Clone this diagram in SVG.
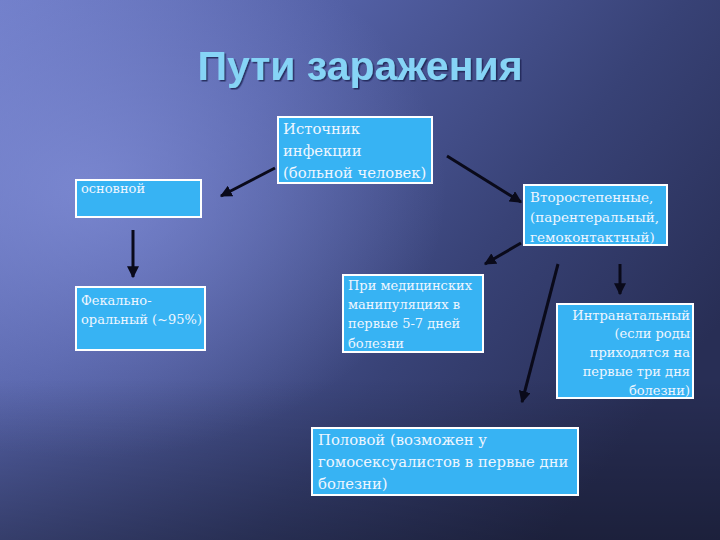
<svg xmlns="http://www.w3.org/2000/svg" width="720" height="540" viewBox="0 0 720 540">
<defs>
<linearGradient id="bg" x1="0" y1="0" x2="1" y2="0.6">
<stop offset="0" stop-color="#6f7dc8"/>
<stop offset="0.35" stop-color="#5360a5"/>
<stop offset="0.7" stop-color="#384276"/>
<stop offset="1" stop-color="#282e55"/>
</linearGradient>
<radialGradient id="hl" cx="0.12" cy="0.35" r="0.5">
<stop offset="0" stop-color="#8592dc" stop-opacity="0.7"/>
<stop offset="1" stop-color="#8592dc" stop-opacity="0"/>
</radialGradient>
<linearGradient id="vign" x1="0" y1="0" x2="0" y2="1">
<stop offset="0" stop-color="#000" stop-opacity="0"/>
<stop offset="0.7" stop-color="#000" stop-opacity="0"/>
<stop offset="1" stop-color="#000" stop-opacity="0.3"/>
</linearGradient>
<marker id="ah" viewBox="0 0 10 10" refX="9" refY="5" markerWidth="4" markerHeight="4" orient="auto" markerUnits="strokeWidth">
<path d="M0,0 L10,5 L0,10 z" fill="#0a0a1a"/>
</marker>
<filter id="sh" x="-5%" y="-20%" width="110%" height="140%">
<feDropShadow dx="1.5" dy="1.5" stdDeviation="0.5" flood-color="#1a2050" flood-opacity="0.8"/>
</filter>
</defs>
<style>
.box{fill:#37b3f3;stroke:#ffffff;stroke-width:2}
.t{font-family:"DejaVu Serif","Liberation Serif",serif;fill:#eef6ff;font-size:13px}
.t.big{font-size:14.8px}
.t.mid{font-size:13.5px}
.conn line{stroke:#0a0a1a;stroke-width:3;marker-end:url(#ah)}
</style>
<rect width="720" height="540" fill="url(#bg)"/>
<rect width="720" height="540" fill="url(#hl)"/>
<rect width="720" height="540" fill="url(#vign)"/>
<text x="360" y="80" text-anchor="middle" font-family="'Liberation Sans',Arial,sans-serif" font-weight="bold" font-size="41" fill="#86d4f6" filter="url(#sh)">Пути заражения</text>

<g id="source">
<rect class="box" x="278" y="117" width="154" height="66"/>
<text class="t big" x="283" y="134">Источник</text>
<text class="t big" x="283" y="156">инфекции</text>
<text class="t big" x="283" y="178">(больной человек)</text>
</g>
<g id="main">
<rect class="box" x="76" y="180" width="125" height="37"/>
<text class="t" x="81" y="193">основной</text>
</g>
<g id="fecal">
<rect class="box" x="76" y="287" width="129" height="63"/>
<text class="t" x="81" y="305">Фекально-</text>
<text class="t" x="81" y="324">оральный (~95%)</text>
</g>
<g id="secondary">
<rect class="box" x="524" y="185" width="143" height="60"/>
<text class="t mid" x="530" y="202">Второстепенные,</text>
<text class="t mid" x="530" y="222">(парентеральный,</text>
<text class="t mid" x="530" y="242">гемоконтактный)</text>
</g>
<g id="medical">
<rect class="box" x="343" y="275" width="140" height="77"/>
<text class="t" x="348" y="290">При медицинских</text>
<text class="t" x="348" y="309">манипуляциях в</text>
<text class="t" x="348" y="328">первые 5-7 дней</text>
<text class="t" x="348" y="348">болезни</text>
</g>
<g id="intranatal">
<rect class="box" x="557" y="304" width="136" height="94"/>
<text class="t" x="690" y="320" text-anchor="end">Интранатальный</text>
<text class="t" x="690" y="338" text-anchor="end">(если роды</text>
<text class="t" x="690" y="357" text-anchor="end">приходятся на</text>
<text class="t" x="690" y="376" text-anchor="end">первые три дня</text>
<text class="t" x="690" y="395" text-anchor="end">болезни)</text>
</g>
<g id="sexual">
<rect class="box" x="312" y="428" width="266" height="67"/>
<text class="t big" x="318" y="445">Половой (возможен у</text>
<text class="t big" x="318" y="467">гомосексуалистов в первые дни</text>
<text class="t big" x="318" y="489">болезни)</text>
</g>
<g id="connectors" class="conn">
<line x1="275" y1="168" x2="221" y2="196"/>
<line x1="447" y1="156" x2="521" y2="202"/>
<line x1="133" y1="230" x2="133" y2="277"/>
<line x1="521" y1="243" x2="485" y2="264"/>
<line x1="558" y1="264" x2="522" y2="402"/>
<line x1="620" y1="264" x2="620" y2="294"/>
</g>
</svg>
